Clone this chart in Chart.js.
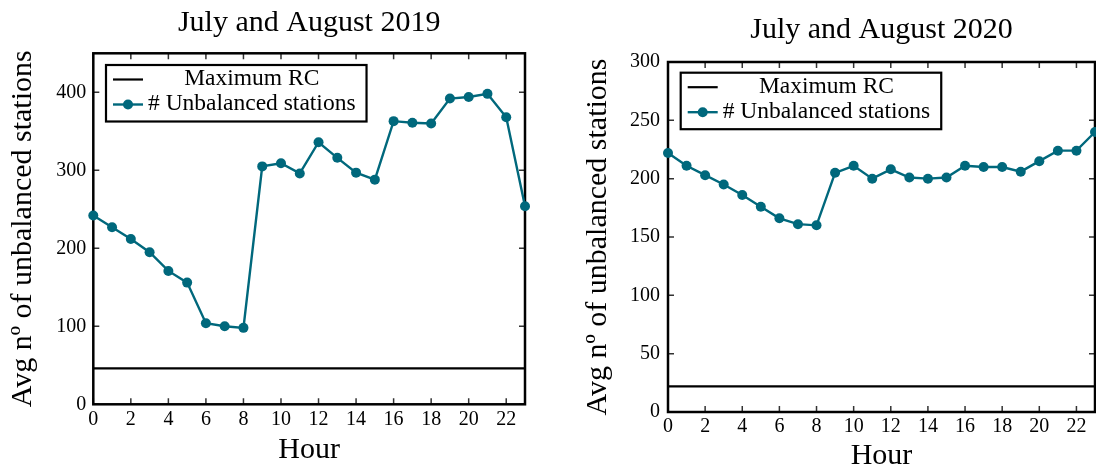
<!DOCTYPE html>
<html>
<head>
<meta charset="utf-8">
<script src="https://cdn.jsdelivr.net/npm/chart.js@4.4.1/dist/chart.umd.min.js"></script>
<style>
  html, body { margin: 0; padding: 0; background: #fff; overflow: hidden; width: 1096px; height: 472px; }
  #wrap { position: relative; width: 1096px; height: 472px; overflow: hidden; }
  canvas { position: absolute; top: 0; }
  #c2019 { left: 0; }
  #c2020 { left: 560px; }
</style>
</head>
<body>
<div id="wrap">
  <canvas id="c2019" width="560" height="472"></canvas>
  <canvas id="c2020" width="540" height="472"></canvas>
</div>
<script>
// Hour of day (x) and tick values
const hours = [0, 1, 2, 3, 4, 5, 6, 7, 8, 9, 10, 11, 12, 13, 14, 15, 16, 17, 18, 19, 20, 21, 22, 23];
const hourTicks = [0, 2, 4, 6, 8, 10, 12, 14, 16, 18, 20, 22];

// Average number of unbalanced stations per hour
const unbalanced2019 = [242, 227, 212, 195, 171, 156, 104, 100, 98, 305, 309, 296, 336, 316, 297, 288, 363, 361, 360, 392, 394, 398, 368, 254];
const unbalanced2020 = [222, 211, 203, 195, 186, 176, 166, 161, 160, 205, 211, 200, 208, 201, 200, 201, 211, 210, 210, 206, 215, 224, 224, 240];

// Maximum rebalancing capacity
const maxRC2019 = 46;
const maxRC2020 = 22;

// Y axis ticks and upper limits
const yTicks2019 = [0, 100, 200, 300, 400];
const yTicks2020 = [0, 50, 100, 150, 200, 250, 300];
const yMax2019 = 450;
const yMax2020 = 300;

const FONT = "'Liberation Serif', 'Times New Roman', serif";
const TEAL = '#00687c';

// Axes frame with inward ticks on all four sides
const framePlugin = {
  id: 'frame',
  beforeDatasetsDraw(chart) {
    const { ctx, chartArea: a, scales: { x, y } } = chart;
    const len = 6;
    ctx.save();
    ctx.strokeStyle = '#333';
    ctx.lineWidth = 1.5;
    ctx.beginPath();
    x.ticks.forEach(t => {
      const px = x.getPixelForValue(t.value);
      ctx.moveTo(px, a.bottom); ctx.lineTo(px, a.bottom - len);
      ctx.moveTo(px, a.top); ctx.lineTo(px, a.top + len);
    });
    y.ticks.forEach(t => {
      const py = y.getPixelForValue(t.value);
      ctx.moveTo(a.left, py); ctx.lineTo(a.left + len, py);
      ctx.moveTo(a.right, py); ctx.lineTo(a.right - len, py);
    });
    ctx.stroke();
    ctx.strokeStyle = '#000';
    ctx.lineWidth = 2.5;
    ctx.strokeRect(a.left, a.top, a.right - a.left, a.bottom - a.top);
    ctx.restore();
  }
};

// Boxed legend in the upper-left corner of the plot area
const boxedLegendPlugin = {
  id: 'boxedLegend',
  afterDatasetsDraw(chart, args, opts) {
    const { ctx, chartArea: a } = chart;
    ctx.save();
    ctx.font = `${opts.size}px ${FONT}`;
    const items = chart.data.datasets.map(ds => ({ ds, w: ctx.measureText(ds.label).width }));
    const textW = Math.max(...items.map(i => i.w));
    const left = a.left + 12.7;
    const top = a.top + opts.offsetTop;
    const padL = 7, handle = 30, gap = 5, padR = 11, rowH = 25, padT = 14.5, padB = 17;
    const w = padL + handle + gap + textW + padR;
    const h = padT + rowH * (items.length - 1) + padB;
    ctx.fillStyle = '#fff';
    ctx.fillRect(left, top, w, h);
    ctx.lineWidth = 2.2;
    ctx.strokeStyle = '#000';
    ctx.strokeRect(left, top, w, h);
    items.forEach((it, i) => {
      const cy = top + padT + i * rowH;
      const x0 = left + padL, x1 = x0 + handle;
      ctx.strokeStyle = it.ds.borderColor;
      ctx.lineWidth = it.ds.borderWidth;
      ctx.beginPath(); ctx.moveTo(x0, cy); ctx.lineTo(x1, cy); ctx.stroke();
      if (it.ds.pointRadius > 0) {
        ctx.fillStyle = it.ds.pointBackgroundColor;
        ctx.beginPath(); ctx.arc((x0 + x1) / 2, cy, it.ds.pointRadius, 0, Math.PI * 2); ctx.fill();
      }
      ctx.fillStyle = '#000';
      ctx.textAlign = 'center';
      ctx.textBaseline = 'middle';
      ctx.fillText(it.ds.label, x1 + gap + textW / 2, cy - 0.5);
    });
    ctx.restore();
  }
};

function makeChart(id, title, values, rc, yTicks, yMax, g) {
  return new Chart(document.getElementById(id), {
    type: 'line',
    data: {
      datasets: [
        {
          label: 'Maximum RC',
          data: [{ x: hours[0], y: rc }, { x: hours[hours.length - 1], y: rc }],
          borderColor: '#000',
          borderWidth: 2.2,
          pointRadius: 0,
          clip: false
        },
        {
          label: '# Unbalanced stations',
          data: hours.map((h, i) => ({ x: h, y: values[i] })),
          borderColor: TEAL,
          borderWidth: 2.4,
          pointRadius: 5,
          pointBackgroundColor: TEAL,
          pointBorderWidth: 0,
          tension: 0,
          clip: false
        }
      ]
    },
    options: {
      responsive: false,
      animation: false,
      events: [],
      layout: { padding: { left: 0, right: g.padRight, top: 0, bottom: 0 } },
      plugins: {
        legend: { display: false },
        tooltip: { enabled: false },
        title: {
          display: true,
          text: title,
          fullSize: false,
          color: '#000',
          font: { family: FONT, size: 30, weight: 'normal', lineHeight: 1.2 },
          padding: { top: g.titleTop, bottom: g.titleBottom }
        },
        boxedLegend: { size: 23.5, offsetTop: g.legendTop }
      },
      scales: {
        x: {
          type: 'linear',
          min: hours[0],
          max: hours[hours.length - 1],
          grid: { display: false, drawTicks: false },
          border: { display: false },
          afterBuildTicks: s => { s.ticks = hourTicks.map(v => ({ value: v })); },
          afterFit: s => { s.height = g.xHeight; },
          ticks: {
            color: '#000',
            padding: 3,
            maxRotation: 0,
            autoSkip: false,
            font: { family: FONT, size: 20 }
          },
          title: {
            display: true,
            text: 'Hour',
            color: '#000',
            font: { family: FONT, size: 30, lineHeight: 1 },
            padding: { top: 0, bottom: g.xTitleBottom }
          }
        },
        y: {
          min: 0,
          max: yMax,
          grid: { display: false, drawTicks: false },
          border: { display: false },
          afterBuildTicks: s => { s.ticks = yTicks.map(v => ({ value: v })); },
          afterFit: s => { s.width = g.yWidth; },
          ticks: {
            color: '#000',
            padding: g.yTickPad,
            font: { family: FONT, size: 20 }
          },
          title: {
            display: true,
            text: 'Avg nº of unbalanced stations',
            color: '#000',
            font: { family: FONT, size: 30, lineHeight: 1 },
            padding: { top: g.yTitleTop, bottom: 0 }
          }
        }
      }
    },
    plugins: [framePlugin, boxedLegendPlugin]
  });
}

makeChart('c2019', 'July and August 2019', unbalanced2019, maxRC2019, yTicks2019, yMax2019, {
  padRight: 35, yWidth: 93.3, xHeight: 67.7, titleTop: 5, titleBottom: 12.3,
  yTitleTop: 8.2, xTitleBottom: 7, yTickPad: 7, legendTop: 11.7
});

makeChart('c2020', 'July and August 2020', unbalanced2020, maxRC2020, yTicks2020, yMax2020, {
  padRight: 1.3, yWidth: 108, xHeight: 60, titleTop: 12.4, titleBottom: 13.6,
  yTitleTop: 23.2, xTitleBottom: 0.4, yTickPad: 8, legendTop: 10.7
});
</script>
</body>
</html>
